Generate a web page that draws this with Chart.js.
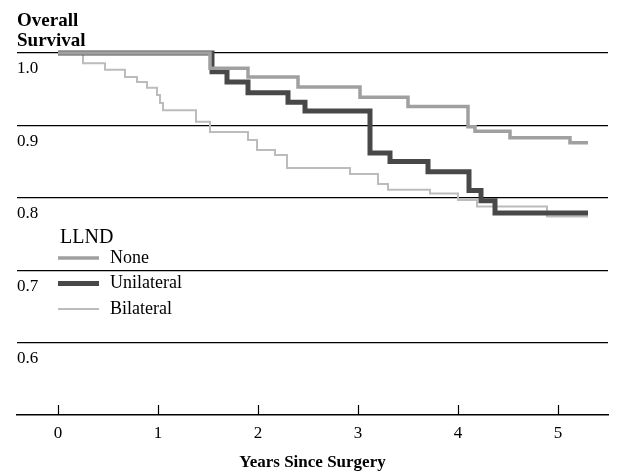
<!DOCTYPE html>
<html>
<head>
<meta charset="utf-8">
<script src="https://cdn.jsdelivr.net/npm/chart.js@4.4.0/dist/chart.umd.min.js"></script>
<style>
  html, body { margin: 0; padding: 0; background: #fff; }
  #wrap { width: 627px; height: 473px; }
</style>
</head>
<body>
<div id="wrap"><canvas id="km"></canvas></div>
<script>
// Kaplan-Meier steps: years since surgery, overall survival
const noneYears = [0, 1.52, 1.90, 2.40, 3.02, 3.50, 4.10, 4.17, 4.52, 5.12, 5.30];
const noneSurv  = [1.0, 0.979, 0.967, 0.953, 0.939, 0.926, 0.898, 0.892, 0.883, 0.876, 0.876];

const uniYears = [0, 1.54, 1.69, 1.90, 2.30, 2.47, 3.12, 3.32, 3.70, 4.11, 4.23, 4.37, 5.30];
const uniSurv  = [1.0, 0.974, 0.960, 0.945, 0.932, 0.920, 0.862, 0.850, 0.836, 0.810, 0.796, 0.779, 0.779];

const biYears = [0, 0.25, 0.47, 0.67, 0.79, 0.89, 0.99, 1.02, 1.05, 1.38, 1.52, 1.90, 1.99, 2.17, 2.29,
                 2.92, 3.20, 3.30, 3.72, 4.00, 4.19, 4.89, 5.30];
const biSurv  = [1.0, 0.986, 0.977, 0.967, 0.960, 0.952, 0.942, 0.931, 0.921, 0.905, 0.891, 0.880, 0.866, 0.859, 0.841,
                 0.833, 0.819, 0.811, 0.806, 0.797, 0.788, 0.774, 0.774];

const groupLabels = ['None', 'Unilateral', 'Bilateral'];
const legendTitle = 'LLND';
const xTicks = [0, 1, 2, 3, 4, 5];
const yTicks = [0.6, 0.7, 0.8, 0.9, 1.0];

const serif = '"Liberation Serif", "Times New Roman", serif';

function toPoints(xs, ys) {
  return xs.map((x, i) => ({ x: x, y: ys[i] }));
}

// legend sits inside the plot, below the 0.8 line
const llndLegend = {
  id: 'llndLegend',
  afterDraw(chart) {
    const ctx = chart.ctx;
    ctx.save();
    ctx.fillStyle = '#000';
    ctx.textBaseline = 'middle';
    ctx.font = '20px ' + serif;
    ctx.fillText(legendTitle, 60, 238);
    chart.data.datasets.forEach((ds, i) => {
      const y = 258 + i * 25.5;
      ctx.strokeStyle = ds.borderColor;
      ctx.lineWidth = ds.borderWidth;
      ctx.beginPath();
      ctx.moveTo(58, y);
      ctx.lineTo(99, y);
      ctx.stroke();
      ctx.font = '18px ' + serif;
      ctx.fillText(ds.label, 110, y);
    });
    ctx.restore();
  }
};

// small tick marks pointing up from the x axis
const upTicks = {
  id: 'upTicks',
  afterDraw(chart) {
    const ctx = chart.ctx;
    const xs = chart.scales.x;
    const bottom = chart.chartArea.bottom;
    ctx.save();
    ctx.strokeStyle = '#000';
    ctx.lineWidth = 1.2;
    xTicks.forEach(v => {
      const px = Math.round(xs.getPixelForValue(v)) + 0.5;
      ctx.beginPath();
      ctx.moveTo(px, bottom - 10);
      ctx.lineTo(px, bottom);
      ctx.stroke();
    });
    ctx.restore();
  }
};

new Chart(document.getElementById('km'), {
  type: 'line',
  data: {
    datasets: [
      {
        label: groupLabels[0],
        data: toPoints(noneYears, noneSurv),
        borderColor: '#a0a0a0',
        borderWidth: 3.5
      },
      {
        label: groupLabels[1],
        data: toPoints(uniYears, uniSurv),
        borderColor: '#484848',
        borderWidth: 5
      },
      {
        label: groupLabels[2],
        data: toPoints(biYears, biSurv),
        borderColor: '#bcbcbc',
        borderWidth: 2
      }
    ]
  },
  options: {
    responsive: true,
    maintainAspectRatio: false,
    animation: false,
    devicePixelRatio: 1,
    datasets: {
      line: { stepped: true, pointRadius: 0, fill: false, clip: false }
    },
    layout: { padding: { left: 17, right: 19, top: 0, bottom: 0 } },
    plugins: {
      legend: { display: false },
      tooltip: { enabled: false },
      title: {
        display: true,
        text: ['Overall', 'Survival'],
        align: 'start',
        color: '#000',
        font: { family: serif, size: 19, weight: 'bold', lineHeight: '20px' },
        padding: { top: 11, bottom: 2 }
      }
    },
    scales: {
      x: {
        type: 'linear',
        min: -0.41,
        max: 5.5,
        afterBuildTicks: s => { s.ticks = xTicks.map(v => ({ value: v })); },
        afterFit: s => { s.height = 58; },
        grid: { drawOnChartArea: false, drawTicks: false },
        border: { display: true, color: '#000', width: 1.5 },
        ticks: { color: '#000', font: { family: serif, size: 17 }, padding: 8, maxRotation: 0 },
        title: {
          display: true,
          text: 'Years Since Surgery',
          color: '#000',
          font: { family: serif, size: 17, weight: 'bold' },
          padding: { top: 0, bottom: 0 }
        }
      },
      y: {
        type: 'linear',
        min: 0.5,
        max: 1.0,
        afterBuildTicks: s => { s.ticks = yTicks.map(v => ({ value: v })); },
        afterFit: s => { s.width = 0; },
        border: { display: false },
        grid: { color: '#000', lineWidth: 1.3, drawTicks: false },
        ticks: {
          mirror: true,
          padding: 0,
          labelOffset: 16,
          color: '#000',
          font: { family: serif, size: 17 },
          callback: v => v.toFixed(1)
        }
      }
    }
  },
  plugins: [llndLegend, upTicks]
});
</script>
</body>
</html>
